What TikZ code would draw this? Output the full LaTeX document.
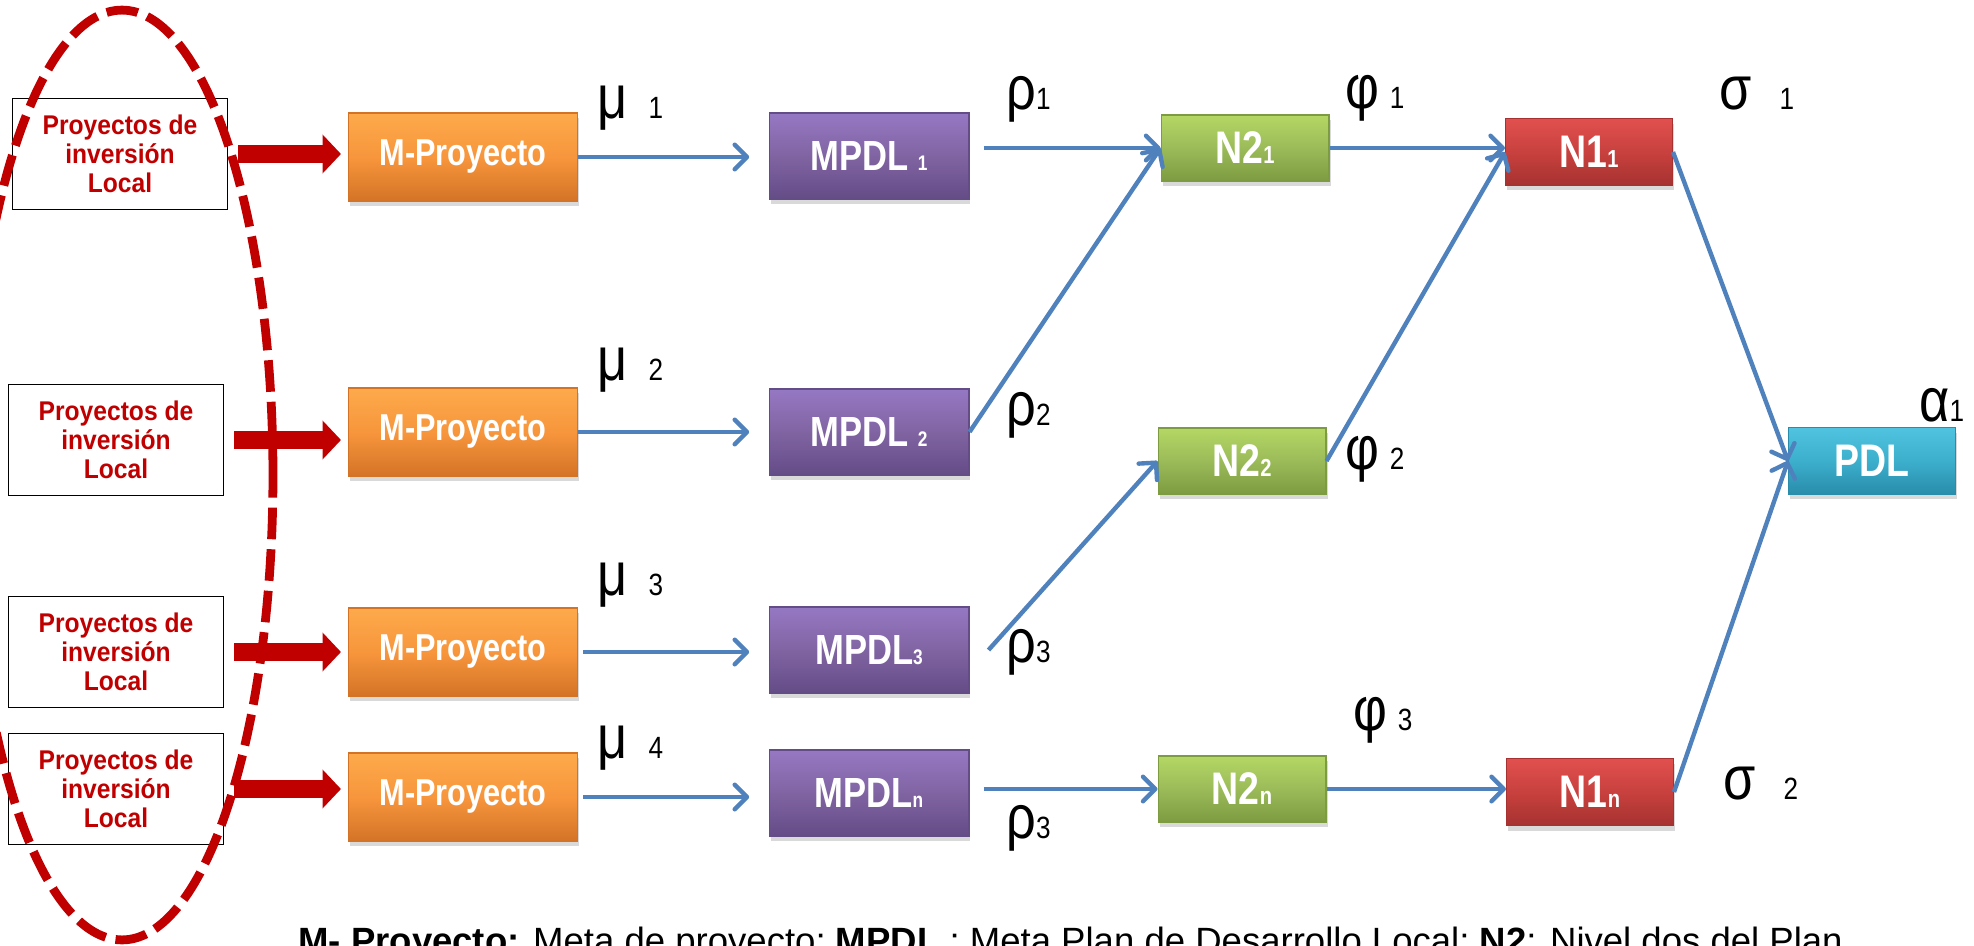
\documentclass[tikz,border=0pt]{standalone}
\usepackage{fontspec}
\setmainfont{Liberation Sans}
\newfontfamily\boxfont[FakeStretch=0.82]{Liberation Sans}
\newfontfamily\inpfont[FakeStretch=0.91]{Liberation Sans}
\newfontfamily\grkfont[FakeStretch=0.85]{Liberation Sans}
\usetikzlibrary{arrows.meta,shadows}
\definecolor{projred}{RGB}{192,0,0}
\definecolor{linkblue}{RGB}{79,129,189}
\definecolor{mpTop}{RGB}{253,170,75}
\definecolor{mpMid}{RGB}{247,150,60}
\definecolor{mpBot}{RGB}{212,115,38}
\definecolor{mpdlTop}{RGB}{150,120,195}
\definecolor{mpdlMid}{RGB}{128,100,162}
\definecolor{mpdlBot}{RGB}{100,76,135}
\definecolor{ntwoTop}{RGB}{180,215,100}
\definecolor{ntwoMid}{RGB}{155,187,89}
\definecolor{ntwoBot}{RGB}{125,155,65}
\definecolor{noneTop}{RGB}{225,80,78}
\definecolor{noneMid}{RGB}{200,65,62}
\definecolor{noneBot}{RGB}{165,50,48}
\definecolor{pdlTop}{RGB}{80,195,225}
\definecolor{pdlMid}{RGB}{60,175,205}
\definecolor{pdlBot}{RGB}{40,140,170}
\newcommand{\glab}[3]{{\grkfont\fontsize{35}{35}\selectfont #1}\hspace{#2}{\grkfont\fontsize{17.5}{17.5}\selectfont #3}}
\newcommand{\msub}[1]{{\fontsize{12}{12}\selectfont #1}}
\newcommand{\nsub}[1]{{\fontsize{14}{14}\selectfont #1}}

\begin{document}
\begin{tikzpicture}[x=0.02cm, y=-0.02cm,
  inbox/.style={draw, line width=1.1pt, minimum width=4.3cm, minimum height=2.22cm, inner sep=0pt, align=center, text=projred, font=\inpfont\bfseries\fontsize{15.4}{16.5}\selectfont},
  metabox/.style={inner sep=0pt, text=white, line width=0.6pt, drop shadow={opacity=0.3, shadow xshift=0.03cm, shadow yshift=-0.1cm}},
  mpbox/.style={metabox, minimum width=4.58cm, minimum height=1.76cm, top color=mpTop, bottom color=mpBot, middle color=mpMid, draw=mpBot, font=\boxfont\bfseries\fontsize{21.3}{24}\selectfont},
  mpdlbox/.style={metabox, minimum width=4cm, minimum height=1.72cm, top color=mpdlTop, bottom color=mpdlBot, middle color=mpdlMid, draw=mpdlBot, font=\boxfont\bfseries\fontsize{24}{26}\selectfont},
  ntwobox/.style={metabox, minimum width=3.36cm, minimum height=1.32cm, top color=ntwoTop, bottom color=ntwoBot, middle color=ntwoMid, draw=ntwoBot, font=\boxfont\bfseries\fontsize{26}{28}\selectfont},
  nonebox/.style={metabox, minimum width=3.34cm, minimum height=1.34cm, top color=noneTop, bottom color=noneBot, middle color=noneMid, draw=noneBot, font=\boxfont\bfseries\fontsize{26}{28}\selectfont},
  pdlbox/.style={metabox, minimum width=3.34cm, minimum height=1.34cm, top color=pdlTop, bottom color=pdlBot, middle color=pdlMid, draw=pdlBot, font=\boxfont\bfseries\fontsize{26}{28}\selectfont},
  glabel/.style={anchor=base west, inner sep=0pt},
  feed/.style={projred, line width=10.2pt, -{Triangle[length=10.5pt, width=21.6pt]}, shorten <=5.7pt, shorten >=4pt},
  flow/.style={linkblue, line width=2.5pt, -{Straight Barb[length=7pt, width=14pt, round]}},
  ring/.style={projred, line width=5pt, dash pattern=on 18pt off 5.7pt}]
%  \draw[help lines] (0,0) grid[step=100] (1974,946);
\useasboundingbox (0,0) rectangle (1974,946);
\clip (0,0) rectangle (1974,946);

\node[inbox] (inp1) at (120,154) {Proyectos de\\inversión\\Local};
\node[inbox] (inp2) at (116,440) {Proyectos de\\inversión\\Local};
\node[inbox] (inp3) at (116,652) {Proyectos de\\inversión\\Local};
\node[inbox] (inp4) at (116,789) {Proyectos de\\inversión\\Local};
\draw[ring] (122,475) ellipse [x radius=3.02cm, y radius=9.3cm];

\node[mpbox] (mp1) at (463,157) {M-Proyecto};
\node[mpbox] (mp2) at (463,432) {M-Proyecto};
\node[mpbox] (mp3) at (463,652) {M-Proyecto};
\node[mpbox] (mp4) at (463,797) {M-Proyecto};

\node[mpdlbox] (mpdl1) at (869,156) {MPDL \msub{1}};
\node[mpdlbox] (mpdl2) at (869,432) {MPDL \msub{2}};
\node[mpdlbox] (mpdl3) at (869,650) {MPDL\msub{3}};
\node[mpdlbox] (mpdl4) at (869,793) {MPDL\msub{n}};

\node[ntwobox] (n21) at (1245,148) {N2\nsub{1}};
\node[ntwobox] (n22) at (1242,461) {N2\nsub{2}};
\node[ntwobox] (n2n) at (1242,789) {N2\nsub{n}};

\node[nonebox] (n11) at (1589,152) {N1\nsub{1}};
\node[nonebox] (n1n) at (1590,792) {N1\nsub{n}};

\node[pdlbox] (pdl) at (1872,461) {PDL};

% labels
\node[glabel] (mu1) at (597,118) {\glab{μ}{12pt}{1}};
\node[glabel] (mu2) at (597,380) {\glab{μ}{12pt}{2}};
\node[glabel] (mu3) at (597,595) {\glab{μ}{12pt}{3}};
\node[glabel] (mu4) at (597,758) {\glab{μ}{12pt}{4}};
\node[glabel] (rho1) at (1006,110) {\glab{ρ}{0pt}{1}};
\node[glabel] (rho2) at (1006,425) {\glab{ρ}{0pt}{2}};
\node[glabel] (rho3) at (1006,662) {\glab{ρ}{0pt}{3}};
\node[glabel] (rho4) at (1006,838) {\glab{ρ}{0pt}{3}};
\node[glabel] (phi1) at (1345,109) {\glab{φ}{6pt}{1}};
\node[glabel] (phi2) at (1345,469) {\glab{φ}{6pt}{2}};
\node[glabel] (phi3) at (1353,730) {\glab{φ}{6pt}{3}};
\node[glabel] (sig1) at (1719,110) {\glab{σ}{16pt}{1}};
\node[glabel] (sig2) at (1723,799) {\glab{σ}{16pt}{2}};
\node[glabel] (alpha1) at (1919,421) {\glab{α}{0pt}{1}};

% input arrows
\draw[feed] (inp1.east) -- (inp1.east -| mp1.west);
\draw[feed] (inp2.east) -- (inp2.east -| mp2.west);
\draw[feed] (inp3.east) -- (inp3.east -| mp3.west);
\draw[feed] (inp4.east) -- (inp4.east -| mp4.west);

% connectors
\draw[flow, shorten >=11pt] (mp1.east) -- (mp1.east -| mpdl1.west);
\draw[flow, shorten >=11pt] (mp2.east) -- (mp2.east -| mpdl2.west);
\draw[flow, shorten <=3pt, shorten >=11pt] (mp3.east) -- (mp3.east -| mpdl3.west);
\draw[flow, shorten <=3pt, shorten >=11pt] (mp4.east) -- (mp4.east -| mpdl4.west);
\draw[flow, shorten <=8pt] (mpdl1.east |- n21.west) -- (n21.west);
\draw[flow] (mpdl2.east) -- (n21.west);
\draw[flow] ([xshift=0.38cm]mpdl3.east) -- (n22.west);
\draw[flow, shorten <=8pt] (mpdl4.east |- n2n.west) -- (n2n.west);
\draw[flow] (n21.east) -- (n21.east -| n11.west);
\draw[flow] (n22.east) -- (n11.west);
\draw[flow] (n2n.east) -- (n2n.east -| n1n.west);
\draw[flow] (n11.east) -- (pdl.west);
\draw[flow] (n1n.east) -- (pdl.west);

\node[anchor=base west, inner sep=0pt, font=\fontsize{20.8}{24}\selectfont] (legend) at (298,953) {\textbf{M- Proyecto:} Meta de proyecto; \textbf{MPDL} : Meta Plan de Desarrollo Local; \textbf{N2}: Nivel dos del Plan};
\end{tikzpicture}
\end{document}
